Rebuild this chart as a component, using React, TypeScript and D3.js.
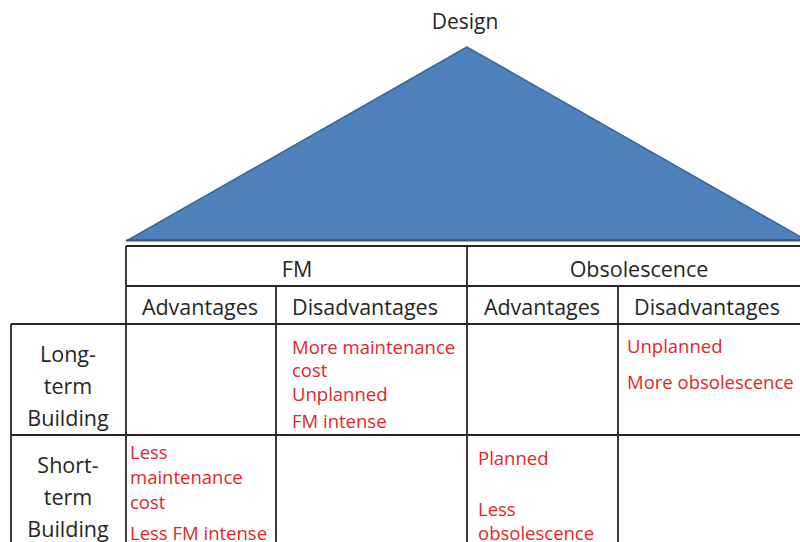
import React from 'react';
import * as d3 from 'd3';

// table content
const topic = 'Design';
const groups = ['FM', 'Obsolescence'];
const subHeads = ['Advantages', 'Disadvantages', 'Advantages', 'Disadvantages'];
const rowLabels = [['Long-', 'term', 'Building'], ['Short-', 'term', 'Building']];
// cell text lines: [row][col]
const cells: string[][][] = [
  [[], ['More maintenance', 'cost', 'Unplanned', 'FM intense'], [], ['Unplanned', 'More obsolescence']],
  [['Less', 'maintenance', 'cost', 'Less FM intense'], [], ['Planned', 'Less', 'obsolescence'], []],
];
// baselines (relative to the top of the row) of each text line
const cellBaselines: number[][][] = [
  [[], [30, 53, 77, 104], [], [29, 65]],
  [[24, 49, 74, 105], [], [30, 81, 105], []],
];
// left padding of the text in each column, per row
const cellPad = [[0, 16, 0, 9], [4, 0, 11, 0]];

const W = 800;
const H = 542;
const colEdges = [126, 276, 467, 618, 808];
const rowEdges = [246, 286, 324, 435, 560];
const leftEdge = 11;

const RED = '#e3262a';
const INK = '#262626';
const FONT = "'Open Sans', 'Noto Sans', sans-serif";

export default function App() {
  const x = d3.scaleLinear().domain([0, W]).range([0, W]);
  const tri = d3.line()([
    [x(467), 47],
    [x(128), 240],
    [x(806), 240],
  ]) + 'Z';

  const line = (x1: number, y1: number, x2: number, y2: number, k: string) => (
    <line key={k} x1={x1} y1={y1} x2={x2} y2={y2} stroke={INK} strokeWidth={1.8} />
  );

  const grid: React.ReactNode[] = [];
  grid.push(line(colEdges[0], rowEdges[0], W, rowEdges[0], 'h0'));
  grid.push(line(colEdges[0], rowEdges[1], W, rowEdges[1], 'h1'));
  grid.push(line(leftEdge, rowEdges[2], W, rowEdges[2], 'h2'));
  grid.push(line(leftEdge, rowEdges[3], W, rowEdges[3], 'h3'));
  grid.push(line(colEdges[0], rowEdges[0], colEdges[0], H, 'v0'));
  grid.push(line(colEdges[1], rowEdges[1], colEdges[1], H, 'v1'));
  grid.push(line(colEdges[2], rowEdges[0], colEdges[2], H, 'v2'));
  grid.push(line(colEdges[3], rowEdges[1], colEdges[3], H, 'v3'));
  grid.push(line(leftEdge, rowEdges[2], leftEdge, H, 'vl'));

  const groupCenters = [297, 639];
  const subCenters = [200, 365, 542, 707];

  return (
    <svg width={W} height={H} style={{ position: 'absolute', left: 0, top: 0, background: '#fff' }}>
      <rect width={W} height={H} fill="#fff" />
      <text x={465} y={29} textAnchor="middle" fontFamily={FONT} fontSize={21} fill={INK}>
        {topic}
      </text>
      <path d={tri} fill="#4f81bd" stroke="#3a6597" strokeWidth={1.5} />
      <line x1={126} y1={240.5} x2={W} y2={240.5} stroke="#2f5585" strokeWidth={2} />
      {grid}
      {groups.map((g, i) => (
        <text key={g} x={groupCenters[i]} y={277} textAnchor="middle"
          fontFamily={FONT} fontSize={21.5} fill={INK}>
          {g}
        </text>
      ))}
      {subHeads.map((s, i) => (
        <text key={i} x={subCenters[i]} y={315} textAnchor="middle"
          fontFamily={FONT} fontSize={21.5} fill={INK}>
          {s}
        </text>
      ))}
      {rowLabels.map((r, ri) => r.map((t, li) => (
        <text key={ri + '-' + li} x={68} y={rowEdges[2 + ri] + 38 + li * 32} textAnchor="middle"
          fontFamily={FONT} fontSize={21.5} fill={INK}>
          {t}
        </text>
      )))}
      {cells.map((row, ri) => row.map((lines, ci) => lines.map((t, li) => (
        <text key={`${ri}-${ci}-${li}`} x={colEdges[ci] + cellPad[ri][ci]}
          y={rowEdges[2 + ri] + cellBaselines[ri][ci][li]}
          fontFamily={FONT} fontSize={18.5} fill={RED}>
          {t}
        </text>
      ))))}
    </svg>
  );
}
